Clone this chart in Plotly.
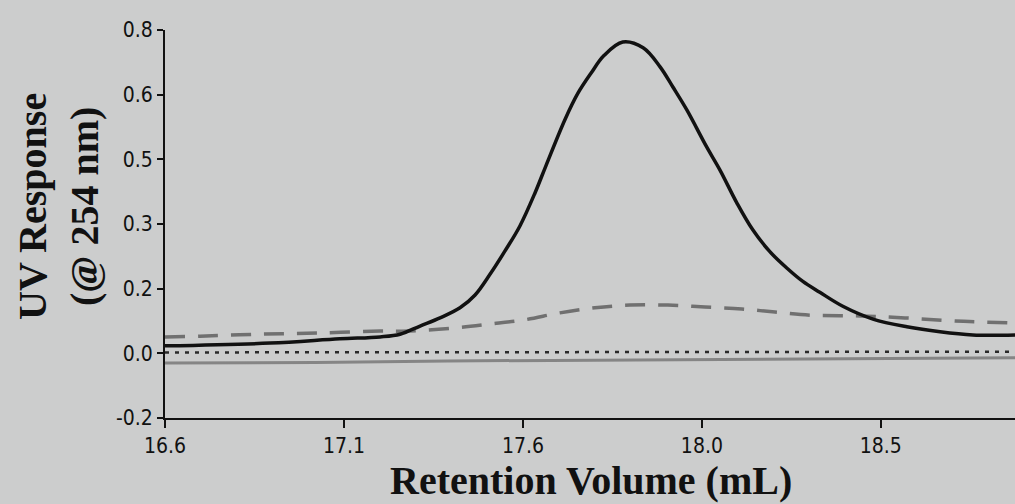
import plotly.graph_objects as go

# Retention volume (mL) and UV response for each trace
main_x = [16.600, 16.879, 17.064, 17.171, 17.224, 17.277, 17.330, 17.383, 17.423, 17.463,
          17.502, 17.542, 17.582, 17.611, 17.662, 17.696, 17.731, 17.765, 17.815,
          17.869, 17.914, 17.948, 17.985, 18.038, 18.073, 18.118, 18.160, 18.206,
          18.251, 18.293, 18.338, 18.399, 18.479, 18.569, 18.657, 18.744, 18.856]
main_y = [-0.014, -0.007, 0.004, 0.009, 0.016, 0.037, 0.058, 0.084, 0.117, 0.171,
          0.230, 0.295, 0.380, 0.450, 0.570, 0.637, 0.689, 0.734, 0.769,
          0.754, 0.705, 0.653, 0.594, 0.498, 0.439, 0.354, 0.285, 0.228,
          0.186, 0.152, 0.124, 0.088, 0.055, 0.035, 0.022, 0.014, 0.014]

dash_x = [16.600, 16.693, 16.852, 17.011, 17.171, 17.250, 17.370, 17.463, 17.554,
          17.648, 17.741, 17.834, 17.935, 18.033, 18.131, 18.219, 18.312, 18.444,
          18.564, 18.697, 18.856]
dash_y = [0.009, 0.011, 0.016, 0.019, 0.024, 0.024, 0.032, 0.042, 0.053,
          0.071, 0.084, 0.091, 0.091, 0.086, 0.081, 0.073, 0.065, 0.063,
          0.058, 0.050, 0.045]

dot_x = [16.600, 17.300, 18.000, 18.856]
dot_y = [-0.031, -0.031, -0.030, -0.029]

base_x = [16.600, 17.000, 17.350, 17.760, 18.290, 18.856]
base_y = [-0.058, -0.057, -0.053, -0.051, -0.048, -0.045]

# Axis ticks
x_tickvals = [16.6, 17.075, 17.55, 18.025, 18.5]
x_ticktext = ["16.6", "17.1", "17.6", "18.0", "18.5"]
y_tickvals = [-0.2 + k / 6 for k in range(7)]
y_ticktext = ["-0.2", "0.0", "0.2", "0.3", "0.5", "0.6", "0.8"]

bg = "#cccdcd"
tick_font = dict(family="Liberation Sans Narrow, Arial Narrow, DejaVu Sans Condensed, sans-serif",
                 size=21, color="#111111")
title_font = dict(family="Liberation Serif, Times New Roman, serif", size=40, color="#111111")

fig = go.Figure()
fig.add_trace(go.Scatter(x=base_x, y=base_y, mode="lines",
                         line=dict(color="#858585", width=3)))
fig.add_trace(go.Scatter(x=dot_x, y=dot_y, mode="lines",
                         line=dict(color="#2a2a2a", width=2.5, dash="4px,6px")))
fig.add_trace(go.Scatter(x=dash_x, y=dash_y, mode="lines",
                         line=dict(color="#707070", width=3.5, dash="20px,13px", shape="spline")))
fig.add_trace(go.Scatter(x=main_x, y=main_y, mode="lines",
                         line=dict(color="#111111", width=3.5, shape="spline", smoothing=1.0)))

fig.update_layout(
    width=1015, height=504,
    margin=dict(l=165, r=0, t=30, b=86),
    paper_bgcolor=bg, plot_bgcolor=bg,
    showlegend=False,
    xaxis=dict(range=[16.6, 18.856], tickvals=x_tickvals, ticktext=x_ticktext,
               showgrid=False, zeroline=False, showline=True, linecolor="#111111",
               linewidth=2, ticks="outside", ticklen=8, tickwidth=2, tickcolor="#111111",
               tickfont=tick_font),
    yaxis=dict(range=[-0.2, 0.8], tickvals=y_tickvals, ticktext=y_ticktext,
               showgrid=False, zeroline=False, showline=True, linecolor="#111111",
               linewidth=2, ticks="outside", ticklen=6, tickwidth=2, tickcolor="#111111",
               tickfont=tick_font),
    annotations=[
        dict(text="<b>Retention Volume (mL)</b>", xref="paper", yref="paper",
             x=0.501, y=-0.162, xanchor="center", yanchor="middle",
             showarrow=False, font=title_font),
        dict(text="<b>UV Response<br>(@ 254 nm)</b>", xref="paper", yref="paper",
             x=-0.1247, y=0.544, xanchor="center", yanchor="middle",
             textangle=-90, showarrow=False, font=title_font),
    ],
)

fig.write_html("out.html")
